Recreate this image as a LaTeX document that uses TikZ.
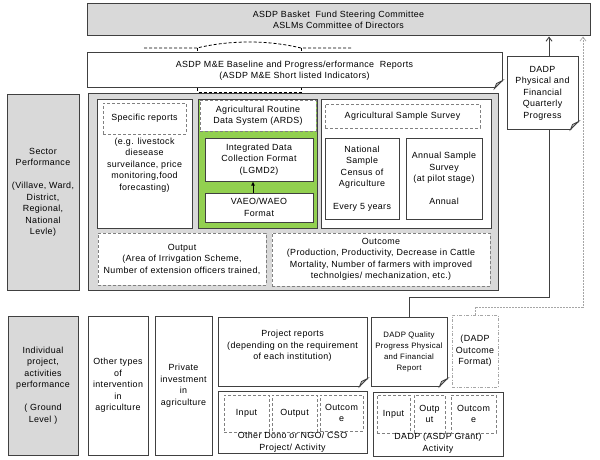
\documentclass[tikz,border=0pt]{standalone}
\usepackage{fontspec}
\setmainfont{Liberation Sans}[LetterSpace=4]
\usepackage{tikz}
\usetikzlibrary{positioning,arrows.meta,calc}

\definecolor{bord}{HTML}{404040}
\definecolor{panel}{HTML}{D9D9D9}
\definecolor{leaf}{HTML}{92D050}
\definecolor{dgray}{HTML}{808080}
\definecolor{lgray}{HTML}{A6A6A6}

% folded corner on a note box
\newcommand{\foldnote}[1]{%
  \fill[white] ([xshift=-8pt]#1.south east) -- ([xshift=1.5pt,yshift=-1.5pt]#1.south east)
    -- ([yshift=8pt]#1.south east) -- cycle;
  \draw[bord, line width=0.8pt, fill=gray!45] ([xshift=-8pt]#1.south east)
    -- ([yshift=8pt]#1.south east) -- ([xshift=-6pt,yshift=5pt]#1.south east) -- cycle;
}

\begin{document}
\begin{tikzpicture}[x=1pt, y=-1pt,
  every node/.style={font=\fontsize{8.9}{11.5}\selectfont, inner sep=1pt},
  box/.style={draw=bord, line width=1pt, fill=white, align=center},
  gbox/.style={box, fill=panel},
  dbox/.style={draw=dgray, dashed, dash pattern=on 3pt off 2pt, line width=0.8pt, fill=white, align=center},
  txt/.style={align=center},
  brace/.style={dashed, dash pattern=on 3pt off 2pt, line width=0.8pt, black},
  conn/.style={bord, line width=0.9pt},
  dconn/.style={lgray, line width=0.7pt, dash pattern=on 2pt off 1pt}
]
\useasboundingbox[fill=white] (0,0) rectangle (600,460);

% top level
\node[gbox, minimum width=503pt, minimum height=32pt] (steer) at (338.5,20)
  {ASDP Basket \ Fund Steering Committee\\ASLMs Committee of Directors};
\node[box, minimum width=415pt, minimum height=35pt] (me) at (294.5,70.5)
  {ASDP M\&E Baseline and Progress/erformance \ Reports\\(ASDP M\&E Short listed Indicators)};
\foldnote{me}
\node[box, minimum width=71pt, minimum height=72pt] (dadpq) at (542.5,93)
  {DADP\\Physical and\\Financial\\Quarterly\\Progress};
\foldnote{dadpq}

% brace between committee and reports
\coordinate (bl) at (197,48);
\coordinate (br) at (301,48);
\draw[brace] (144,48) -- (bl) .. controls (230,40) and (268,40) .. (br) -- (352,48);
\draw[brace] (bl) -- (bl |- me.north);
\draw[brace] (br) -- (br |- me.north);
\coordinate (cl) at (197,92);
\coordinate (cr) at (301,92);
\draw[brace] (cl |- me.south) -- (cl) -- (cr) -- (cr |- me.south);

% sector performance
\node[gbox, minimum width=72pt, minimum height=195pt] (sector) at (43,192.5)
  {Sector\\Performance\\[11.5pt](Villave, Ward,\\District,\\Regional,\\National\\Levle)};
\node[gbox, minimum width=410pt, minimum height=196pt] (panel) at (293,192) {};

\node[box, minimum width=95pt, minimum height=129pt] (specbox) at (144.5,163.5) {};
\node[dbox, minimum width=83pt, minimum height=31pt] (specrep) at (144.5,118.5) {Specific reports};
\node[txt] (spectxt) at (144.5,165)
  {(e.g. livestock\\diesease\\surveilance, price\\monitoring,food\\forecasting)};

\node[box, fill=leaf, minimum width=119pt, minimum height=129pt] (ards) at (257.5,163.5) {};
\node[dbox, minimum width=116pt, minimum height=31pt] (ardsname) at (258,115.5)
  {Agricultural Routine\\Data System (ARDS)};
\node[box, minimum width=108pt, minimum height=43pt] (lgmd) at (259,159.5)
  {Integrated Data\\Collection Format\\(LGMD2)};
\node[box, minimum width=108pt, minimum height=29pt] (vaeo) at (259,207.5) {VAEO/WAEO\\Format};
\draw[-{Latex[length=4pt,width=4pt]}, line width=0.8pt] ([xshift=-6pt]vaeo.north) -- ([xshift=-6pt]lgmd.south);

\node[box, minimum width=170pt, minimum height=129pt] (survey) at (406,163.5) {};
\node[dbox, minimum width=155pt, minimum height=24pt] (surveyname) at (402.5,116) {Agricultural Sample Survey};
\node[box, minimum width=74pt, minimum height=81pt] (natl) at (362,178.5)
  {National\\Sample\\Census of\\Agriculture\\[11.5pt]Every 5 years};
\node[box, minimum width=76pt, minimum height=81pt] (annual) at (444,178.5)
  {Annual Sample\\Survey\\(at pilot stage)\\[11.5pt]Annual};

\node[dbox, minimum width=168pt, minimum height=52pt] (output) at (182,259)
  {Output\\(Area of Irrivgation Scheme,\\Number of extension officers trained,};
\node[dbox, minimum width=218pt, minimum height=53pt] (outcome) at (381,259.5)
  {Outcome\\(Production, Productivity, Decrease in Cattle\\Mortality, Number of farmers with improved\\technolgies/ mechanization, etc.)};

% ground level
\node[gbox, minimum width=70pt, minimum height=139pt] (ground) at (43,385.5)
  {Individual\\project,\\activities\\performance\\[11.5pt]( Ground\\Level )};
\node[box, minimum width=60pt, minimum height=139pt] (othertypes) at (118,385.5)
  {Other types\\of\\intervention\\in\\agriculture};
\node[box, minimum width=57pt, minimum height=139pt] (private) at (183.5,385.5)
  {Private\\investment\\in\\agriculture};

\node[box, minimum width=149pt, minimum height=69pt] (projrep) at (292.5,351.5) {};
\node[txt] (projtxt) at (292.5,346)
  {Project reports\\(depending on the requirement\\of each institution)};
\foldnote{projrep}
\node[box, minimum width=149pt, minimum height=62pt] (donor) at (292.5,422) {};
\node[dbox, minimum width=45pt, minimum height=37pt] (dinput) at (246.5,413.5) {Input};
\node[dbox, minimum width=45pt, minimum height=37pt] (doutput) at (294.5,413.5) {Output};
\node[dbox, minimum width=43pt, minimum height=36pt] (doutcome) at (341.5,413) {Outcom\\e};
\node[txt] (donortxt) at (292.5,442) {Other Dono or NGO/ CSO\\Project/ Activity};

\node[box, minimum width=76pt, minimum height=69pt, font=\fontsize{7.8}{11}\selectfont] (dadpqual) at (409,351.5)
  {DADP Quality\\Progress Physical\\and Financial\\Report};
\foldnote{dadpqual}
\node[dbox, draw=lgray, dash pattern=on 3pt off 1.5pt on 1pt off 1.5pt, minimum width=46pt, minimum height=72pt] (outfmt) at (475,351)
  {(DADP\\Outcome\\Format)};

\node[box, minimum width=130pt, minimum height=64pt] (grant) at (438,424) {};
\node[dbox, minimum width=33pt, minimum height=38pt] (ginput) at (393.5,414) {Input};
\node[dbox, minimum width=31pt, minimum height=38pt] (goutput) at (429.5,414) {Outp\\ut};
\node[dbox, minimum width=45pt, minimum height=38pt] (goutcome) at (473.5,414) {Outcom\\e};
\node[txt] (granttxt) at (438,443) {DADP (ASDP Grant)\\Activity};

% reporting lines
\coordinate (sturn) at (549,297);
\coordinate (dturn) at (583,307);
\draw[conn] (dadpqual.north) |- (sturn) -- (sturn |- dadpq.south);
\draw[conn, -{Straight Barb[length=4pt,width=6pt]}] (sturn |- dadpq.north) -- (sturn |- steer.south);
\draw[dconn, -{Straight Barb[length=4pt,width=6pt]}] (outfmt.north) |- (dturn) -- (dturn |- steer.south);
\end{tikzpicture}
\end{document}
